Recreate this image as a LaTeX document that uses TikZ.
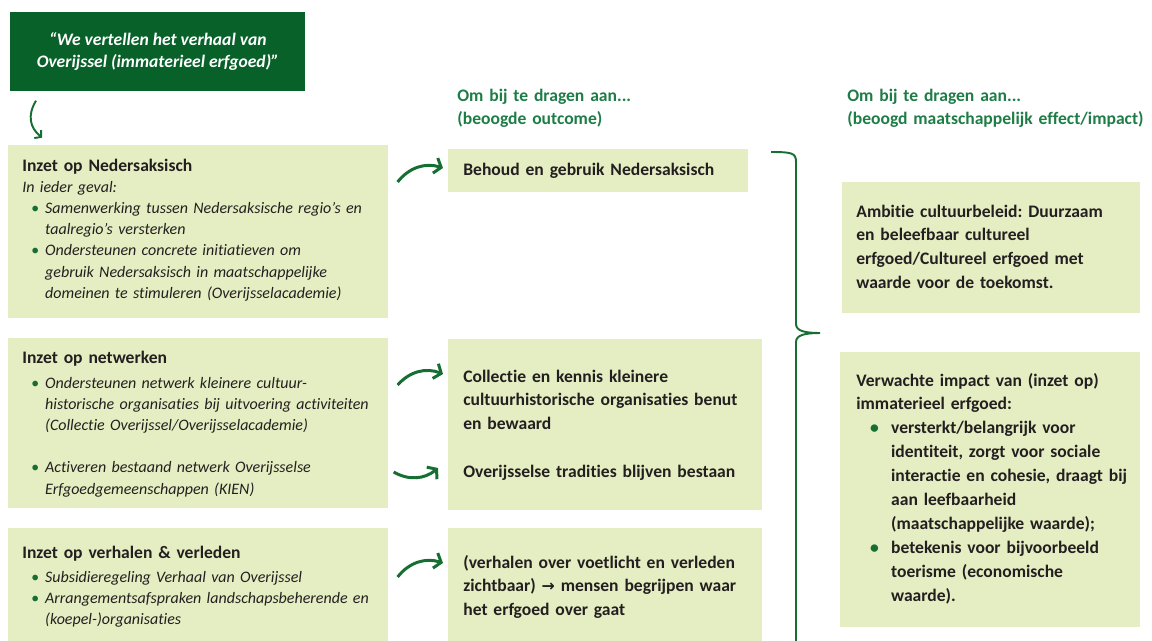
\documentclass[tikz,border=0pt]{standalone}
\usepackage{fontspec}
\setmainfont{Carlito}[Ligatures=NoCommon]
\newfontfamily\arrowfont{DejaVu Sans}
\usepackage{xcolor}
\usetikzlibrary{arrows.meta, positioning, calc}
\definecolor{quotegreen}{RGB}{8,97,40}
\definecolor{boxcolor}{RGB}{229,238,194}
\definecolor{headcolor}{RGB}{30,125,70}
\definecolor{arrowcolor}{RGB}{22,110,50}
\definecolor{textcolor}{RGB}{35,31,32}
\newcommand{\itm}{\makebox[13pt][r]{\textcolor{arrowcolor}{\textbullet}\hspace{3.5pt}}}
\newcommand{\ind}{\hspace*{13pt}}
\newcommand{\bitm}{\makebox[19.8pt][r]{\textcolor{arrowcolor}{\textbullet}\hspace{7pt}}}
\newcommand{\bind}{\hspace*{19.8pt}}
\frenchspacing

\begin{document}
\begin{tikzpicture}[
    x=0.02cm, y=-0.02cm,
    box/.style={fill=boxcolor, anchor=north west, inner sep=0pt},
    bodytext/.style={anchor=base west, inner sep=0pt, text width=6.4cm, align=left, text=textcolor, font=\fontsize{10}{13.6}\selectfont\bfseries},
    listtext/.style={anchor=base west, inner sep=0pt, text width=7.4cm, align=left, text=textcolor, font=\fontsize{9.1}{12.1}\selectfont\itshape},
    headtext/.style={bodytext, text=headcolor},
    flow/.style={draw=arrowcolor, line width=1.7pt, -{Straight Barb[length=3.5pt,width=9pt]}}
]
    \useasboundingbox (0,0) rectangle (1152,640);
    \clip (0,0) rectangle (1152,640);

    \node[box, fill=quotegreen, minimum width=5.9cm, minimum height=1.58cm, align=center, text=white, font=\fontsize{10}{12.5}\selectfont\bfseries\itshape] (quote) at (10,12) {“We vertellen het verhaal van\\Overijssel (immaterieel erfgoed)”};
    \draw[arrowcolor, line width=1.1pt, -{Straight Barb[length=2.5pt,width=6pt]}] ([shift={(26,9)}]quote.south west) .. controls ([shift={(17,24)}]quote.south west) and ([shift={(20,36)}]quote.south west) .. ([shift={(32,46)}]quote.south west);

    \node[box, minimum width=7.6cm, minimum height=3.46cm] (ned) at (8,145) {};
    \node[bodytext] (nedhead) at (22,171) {Inzet op Nedersaksisch};
    \node[listtext] (nedlist) at (22,192) {In ieder geval:\\
        \itm Samenwerking tussen Nedersaksische regio’s en\\
        \ind taalregio’s versterken\\
        \itm Ondersteunen concrete initiatieven om\\
        \ind gebruik Nedersaksisch in maatschappelijke\\
        \ind domeinen te stimuleren (Overijsselacademie)};

    \node[box, minimum width=7.6cm, minimum height=3.4cm] (net) at (8,338) {};
    \node[bodytext] (nethead) at (22,363) {Inzet op netwerken};
    \node[listtext] (netlist) at (22,388) {\itm Ondersteunen netwerk kleinere cultuur-\\
        \ind historische organisaties bij uitvoering activiteiten\\
        \ind (Collectie Overijssel/Overijsselacademie)\\[12pt]
        \itm Activeren bestaand netwerk Overijsselse\\
        \ind Erfgoedgemeenschappen (KIEN)};

    \node[box, minimum width=7.6cm, minimum height=3cm] (verh) at (8,528) {};
    \node[bodytext] (verhhead) at (22,558) {Inzet op verhalen \& verleden};
    \node[listtext] (verhlist) at (22,582) {\itm Subsidieregeling Verhaal van Overijssel\\
        \itm Arrangementsafspraken landschapsbeherende en\\
        \ind (koepel-)organisaties};

    \node[headtext] (outhead) at (457,101) {Om bij te dragen aan...\\(beoogde outcome)};

    \node[box, minimum width=6cm, minimum height=0.86cm] (behoud) at (448,149) {};
    \node[bodytext] (behoudtext) at (463,175) {Behoud en gebruik Nedersaksisch};

    \node[box, minimum width=6.28cm, minimum height=3.42cm] (coll) at (448,339) {};
    \node[bodytext] (colltext) at (463,382) {Collectie en kennis kleinere\\cultuurhistorische organisaties benut\\en bewaard};
    \node[bodytext] (tradtext) at (463,477) {Overijsselse tradities blijven bestaan};

    \node[box, minimum width=6.28cm, minimum height=3cm] (zicht) at (448,528) {};
    \node[bodytext] (zichttext) at (463,568) {(verhalen over voetlicht en verleden\\zichtbaar) {\arrowfont\fontsize{9}{13.6}\selectfont →} mensen begrijpen waar\\het erfgoed over gaat};

    \draw[flow] ([shift={(9,37)}]ned.north east) to[bend left=35] ([shift={(-5,19)}]behoud.north west);
    \draw[flow] ([shift={(9,47)}]net.north east) to[bend left=35] ([shift={(-5,35)}]coll.north west);
    \draw[flow] ([shift={(5,134)}]net.north east) to[bend right=35] ([shift={(-10,129)}]coll.north west);
    \draw[flow] ([shift={(9,49)}]verh.north east) to[bend left=35] ([shift={(-5,35)}]zicht.north west);

    \draw[arrowcolor, line width=1.1pt] (771,152) .. controls (792,152) and (796,153) .. (796,162) -- (796,324) .. controls (796,331) and (805,333) .. (820,333) .. controls (805,333) and (796,335) .. (796,342) -- (796,645);

    \node[headtext] (effhead) at (847,101) {Om bij te dragen aan...\\(beoogd maatschappelijk effect/impact)};

    \node[box, minimum width=5.96cm, minimum height=2.62cm] (ambitie) at (842,182) {};
    \node[bodytext] (ambitietext) at (856,217) {Ambitie cultuurbeleid: Duurzaam\\en beleefbaar cultureel\\erfgoed/Cultureel erfgoed met\\waarde voor de toekomst.};

    \node[box, minimum width=6cm, minimum height=5.5cm] (impact) at (840,352) {};
    \node[bodytext] (impacttext) at (856,386) {Verwachte impact van (inzet op)\\immaterieel erfgoed:\\
        \bitm versterkt/belangrijk voor\\
        \bind identiteit, zorgt voor sociale\\
        \bind interactie en cohesie, draagt bij\\
        \bind aan leefbaarheid\\
        \bind (maatschappelijke waarde);\\
        \bitm betekenis voor bijvoorbeeld\\
        \bind toerisme (economische\\
        \bind waarde).};
\end{tikzpicture}
\end{document}
